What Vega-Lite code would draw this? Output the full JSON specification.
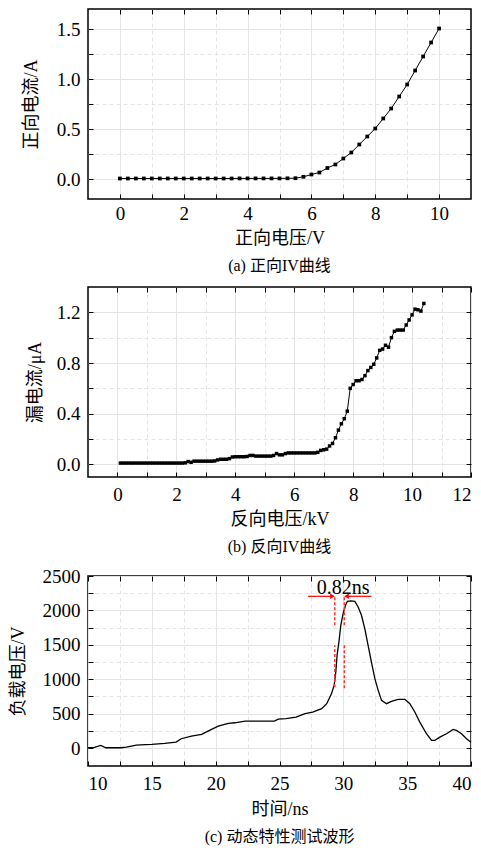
{
  "$schema": "https://vega.github.io/schema/vega-lite/v6.json",
  "background": "white",
  "padding": {"left": 8, "top": 7, "right": 0, "bottom": 0},
  "spacing": 10,
  "config": {
    "view": {"stroke": "#000", "strokeWidth": 1.5},
    "axis": {
      "domain": false,
      "labelFont": "Liberation Serif",
      "labelFontSize": 19,
      "labelColor": "#000",
      "titleFont": "Liberation Serif, Noto Sans CJK SC",
      "titleFontSize": 18,
      "titleFontWeight": "normal",
      "titleColor": "#000",
      "tickColor": "#000",
      "tickSize": -5,
      "tickWidth": 1,
      "gridColor": "#e4e4e4",
      "gridWidth": 1
    },
    "axisX": {"labelPadding": 10},
    "axisY": {"labelPadding": 13},
    "title": {"font": "Liberation Serif, Noto Sans CJK SC", "fontSize": 16, "fontWeight": "normal", "color": "#000", "offset": 9}
  },
  "vconcat": [
    {
      "width": 383,
      "height": 190,
      "title": {"text": "(a)  正向IV曲线", "orient": "bottom", "offset": 11},
      "data": {"values": [
        {"v": 0, "i": 0.005}, {"v": 0.25, "i": 0.005}, {"v": 0.5, "i": 0.005}, {"v": 0.75, "i": 0.005},
        {"v": 1, "i": 0.005}, {"v": 1.25, "i": 0.005}, {"v": 1.5, "i": 0.005}, {"v": 1.75, "i": 0.005},
        {"v": 2, "i": 0.005}, {"v": 2.25, "i": 0.005}, {"v": 2.5, "i": 0.005}, {"v": 2.75, "i": 0.005},
        {"v": 3, "i": 0.005}, {"v": 3.25, "i": 0.005}, {"v": 3.5, "i": 0.005}, {"v": 3.75, "i": 0.006},
        {"v": 4, "i": 0.006}, {"v": 4.25, "i": 0.006}, {"v": 4.5, "i": 0.006}, {"v": 4.75, "i": 0.006},
        {"v": 5, "i": 0.006}, {"v": 5.25, "i": 0.007}, {"v": 5.5, "i": 0.008}, {"v": 5.75, "i": 0.022},
        {"v": 6, "i": 0.045}, {"v": 6.25, "i": 0.065}, {"v": 6.5, "i": 0.11}, {"v": 6.75, "i": 0.145},
        {"v": 7, "i": 0.205}, {"v": 7.25, "i": 0.265}, {"v": 7.5, "i": 0.345}, {"v": 7.75, "i": 0.425},
        {"v": 8, "i": 0.505}, {"v": 8.25, "i": 0.605}, {"v": 8.5, "i": 0.705}, {"v": 8.75, "i": 0.825},
        {"v": 9, "i": 0.945}, {"v": 9.25, "i": 1.085}, {"v": 9.5, "i": 1.225}, {"v": 9.75, "i": 1.365},
        {"v": 10, "i": 1.505}
      ]},
      "layer": [
        {
          "mark": {"type": "line", "color": "#000", "strokeWidth": 1},
          "encoding": {
            "x": {"field": "v", "type": "quantitative", "scale": {"domain": [-1, 11], "nice": false, "zero": false},
              "axis": {"orient": "bottom", "title": "正向电压/V", "titlePadding": 6,
                "values": [0, 1, 2, 3, 4, 5, 6, 7, 8, 9, 10],
                "labelExpr": "datum.value % 2 === 0 ? datum.label : ''",
                "gridDash": {"condition": {"test": "datum.value % 2 !== 0", "value": [4, 3]}, "value": []}}},
            "y": {"field": "i", "type": "quantitative", "scale": {"domain": [-0.2, 1.7], "nice": false, "zero": false},
              "axis": {"orient": "left", "title": "正向电流/A", "titlePadding": 16, "format": ".1f",
                "values": [0, 0.25, 0.5, 0.75, 1, 1.25, 1.5],
                "labelExpr": "datum.value % 0.5 !== 0 ? '' : datum.label",
                "gridDash": {"condition": {"test": "datum.value % 0.5 !== 0", "value": [4, 3]}, "value": []}}}
          }
        },
        {
          "mark": {"type": "point", "shape": "square", "filled": true, "color": "#000", "size": 14, "opacity": 1},
          "encoding": {
            "x": {"field": "v", "type": "quantitative", "axis": null},
            "y": {"field": "i", "type": "quantitative", "axis": null}
          }
        },
        {
          "mark": {"type": "point", "opacity": 0},
          "encoding": {
            "x": {"field": "v", "type": "quantitative", "scale": {"domain": [-1, 11], "nice": false, "zero": false},
              "axis": {"orient": "top", "labels": false, "grid": false, "title": null, "values": [0, 1, 2, 3, 4, 5, 6, 7, 8, 9, 10]}},
            "y": {"field": "i", "type": "quantitative", "scale": {"domain": [-0.2, 1.7], "nice": false, "zero": false},
              "axis": {"orient": "right", "labels": false, "grid": false, "title": null, "values": [0, 0.25, 0.5, 0.75, 1, 1.25, 1.5]}}
          }
        }
      ]
    },
    {
      "width": 383,
      "height": 190,
      "title": {"text": "(b)  反向IV曲线", "orient": "bottom", "offset": 11},
      "data": {"values": [
        {"v": 0.1, "i": 0.01}, {"v": 0.2, "i": 0.01}, {"v": 0.3, "i": 0.01}, {"v": 0.4, "i": 0.01}, {"v": 0.5, "i": 0.01},
        {"v": 0.6, "i": 0.01}, {"v": 0.7, "i": 0.01}, {"v": 0.8, "i": 0.01}, {"v": 0.9, "i": 0.01}, {"v": 1.0, "i": 0.01},
        {"v": 1.1, "i": 0.01}, {"v": 1.2, "i": 0.01}, {"v": 1.3, "i": 0.01}, {"v": 1.4, "i": 0.01}, {"v": 1.5, "i": 0.01},
        {"v": 1.6, "i": 0.01}, {"v": 1.7, "i": 0.01}, {"v": 1.8, "i": 0.01}, {"v": 1.9, "i": 0.01}, {"v": 2.0, "i": 0.01},
        {"v": 2.1, "i": 0.01}, {"v": 2.2, "i": 0.01}, {"v": 2.3, "i": 0.012}, {"v": 2.4, "i": 0.022}, {"v": 2.5, "i": 0.016},
        {"v": 2.6, "i": 0.025}, {"v": 2.7, "i": 0.025}, {"v": 2.8, "i": 0.025}, {"v": 2.9, "i": 0.025}, {"v": 3.0, "i": 0.025},
        {"v": 3.1, "i": 0.025}, {"v": 3.2, "i": 0.025}, {"v": 3.3, "i": 0.027}, {"v": 3.4, "i": 0.035}, {"v": 3.5, "i": 0.04},
        {"v": 3.6, "i": 0.04}, {"v": 3.7, "i": 0.04}, {"v": 3.8, "i": 0.045}, {"v": 3.9, "i": 0.058}, {"v": 4.0, "i": 0.06},
        {"v": 4.1, "i": 0.06}, {"v": 4.2, "i": 0.06}, {"v": 4.3, "i": 0.06}, {"v": 4.4, "i": 0.062}, {"v": 4.5, "i": 0.07},
        {"v": 4.6, "i": 0.07}, {"v": 4.7, "i": 0.065}, {"v": 4.8, "i": 0.065}, {"v": 4.9, "i": 0.065}, {"v": 5.0, "i": 0.065},
        {"v": 5.1, "i": 0.065}, {"v": 5.2, "i": 0.065}, {"v": 5.3, "i": 0.07}, {"v": 5.4, "i": 0.085}, {"v": 5.5, "i": 0.075},
        {"v": 5.6, "i": 0.075}, {"v": 5.7, "i": 0.085}, {"v": 5.8, "i": 0.09}, {"v": 5.9, "i": 0.09}, {"v": 6.0, "i": 0.09},
        {"v": 6.1, "i": 0.09}, {"v": 6.2, "i": 0.09}, {"v": 6.3, "i": 0.09}, {"v": 6.4, "i": 0.09}, {"v": 6.5, "i": 0.09},
        {"v": 6.6, "i": 0.09}, {"v": 6.7, "i": 0.09}, {"v": 6.8, "i": 0.095}, {"v": 6.9, "i": 0.11}, {"v": 7.0, "i": 0.115},
        {"v": 7.1, "i": 0.12}, {"v": 7.2, "i": 0.145}, {"v": 7.3, "i": 0.165}, {"v": 7.4, "i": 0.21}, {"v": 7.5, "i": 0.27},
        {"v": 7.6, "i": 0.32}, {"v": 7.7, "i": 0.36}, {"v": 7.8, "i": 0.42}, {"v": 7.9, "i": 0.6}, {"v": 8.0, "i": 0.63},
        {"v": 8.1, "i": 0.66}, {"v": 8.2, "i": 0.66}, {"v": 8.3, "i": 0.67}, {"v": 8.4, "i": 0.7}, {"v": 8.5, "i": 0.74},
        {"v": 8.6, "i": 0.765}, {"v": 8.7, "i": 0.79}, {"v": 8.8, "i": 0.84}, {"v": 8.9, "i": 0.9}, {"v": 9.0, "i": 0.91},
        {"v": 9.1, "i": 0.94}, {"v": 9.2, "i": 0.925}, {"v": 9.3, "i": 1.0}, {"v": 9.4, "i": 1.05}, {"v": 9.5, "i": 1.06},
        {"v": 9.6, "i": 1.06}, {"v": 9.7, "i": 1.06}, {"v": 9.8, "i": 1.1}, {"v": 9.9, "i": 1.14}, {"v": 10.0, "i": 1.18},
        {"v": 10.1, "i": 1.225}, {"v": 10.2, "i": 1.22}, {"v": 10.3, "i": 1.21}, {"v": 10.4, "i": 1.27}
      ]},
      "layer": [
        {
          "mark": {"type": "line", "color": "#000", "strokeWidth": 1},
          "encoding": {
            "x": {"field": "v", "type": "quantitative", "scale": {"domain": [-1, 12], "nice": false, "zero": false},
              "axis": {"orient": "bottom", "title": "反向电压/kV", "titlePadding": 6, "labelPadding": 13,
                "values": [0, 1, 2, 3, 4, 5, 6, 7, 8, 9, 10, 11, 12],
                "labelExpr": "datum.value % 2 === 0 ? datum.label : ''",
                "gridDash": {"condition": {"test": "datum.value % 2 !== 0", "value": [4, 3]}, "value": []}}},
            "y": {"field": "i", "type": "quantitative", "scale": {"domain": [-0.1, 1.4], "nice": false, "zero": false},
              "axis": {"orient": "left", "title": "漏电流/μA", "titlePadding": 12, "format": ".1f",
                "values": [0, 0.2, 0.4, 0.6, 0.8, 1.0, 1.2],
                "labelExpr": "round(datum.value * 5) % 2 === 1 ? '' : datum.label",
                "gridDash": {"condition": {"test": "round(datum.value * 5) % 2 === 1", "value": [4, 3]}, "value": []}}}
          }
        },
        {
          "mark": {"type": "point", "shape": "square", "filled": true, "color": "#000", "size": 12, "opacity": 1},
          "encoding": {
            "x": {"field": "v", "type": "quantitative", "axis": null},
            "y": {"field": "i", "type": "quantitative", "axis": null}
          }
        },
        {
          "mark": {"type": "point", "opacity": 0},
          "encoding": {
            "x": {"field": "v", "type": "quantitative", "scale": {"domain": [-1, 12], "nice": false, "zero": false},
              "axis": {"orient": "top", "labels": false, "grid": false, "title": null, "values": [0, 1, 2, 3, 4, 5, 6, 7, 8, 9, 10, 11, 12]}},
            "y": {"field": "i", "type": "quantitative", "scale": {"domain": [-0.1, 1.4], "nice": false, "zero": false},
              "axis": {"orient": "right", "labels": false, "grid": false, "title": null, "values": [0, 0.2, 0.4, 0.6, 0.8, 1.0, 1.2]}}
          }
        }
      ]
    },
    {
      "width": 383,
      "height": 190,
      "title": {"text": "(c)  动态特性测试波形", "orient": "bottom", "offset": 11},
      "layer": [
        {
          "data": {"values": [
            {"t": 10.0, "u": 5}, {"t": 10.5, "u": 10}, {"t": 11.0, "u": 40}, {"t": 11.4, "u": 5}, {"t": 12.0, "u": 5},
            {"t": 12.6, "u": 5}, {"t": 13.0, "u": 15}, {"t": 13.8, "u": 44}, {"t": 14.5, "u": 50}, {"t": 15.0, "u": 54},
            {"t": 16.0, "u": 68}, {"t": 16.9, "u": 87}, {"t": 17.3, "u": 136}, {"t": 18.1, "u": 175}, {"t": 18.9, "u": 199},
            {"t": 19.4, "u": 247}, {"t": 20.2, "u": 320}, {"t": 21.0, "u": 359}, {"t": 21.5, "u": 368}, {"t": 22.3, "u": 393},
            {"t": 23.0, "u": 393}, {"t": 24.0, "u": 393}, {"t": 24.6, "u": 393}, {"t": 24.9, "u": 420}, {"t": 25.5, "u": 427},
            {"t": 26.3, "u": 451}, {"t": 27.0, "u": 500}, {"t": 27.6, "u": 524}, {"t": 28.3, "u": 572}, {"t": 28.7, "u": 645},
            {"t": 29.07, "u": 790}, {"t": 29.28, "u": 911}, {"t": 29.41, "u": 1105}, {"t": 29.51, "u": 1347}, {"t": 29.67, "u": 1565},
            {"t": 29.8, "u": 1783}, {"t": 29.98, "u": 1953}, {"t": 30.17, "u": 2074}, {"t": 30.32, "u": 2132}, {"t": 30.6, "u": 2140},
            {"t": 30.9, "u": 2132}, {"t": 31.16, "u": 2050}, {"t": 31.42, "u": 1929}, {"t": 31.68, "u": 1735}, {"t": 31.94, "u": 1493},
            {"t": 32.2, "u": 1250}, {"t": 32.47, "u": 1008}, {"t": 32.73, "u": 839}, {"t": 32.99, "u": 693}, {"t": 33.38, "u": 645},
            {"t": 33.77, "u": 679}, {"t": 34.29, "u": 708}, {"t": 34.82, "u": 708}, {"t": 35.21, "u": 645}, {"t": 35.6, "u": 524},
            {"t": 35.99, "u": 378}, {"t": 36.51, "u": 209}, {"t": 36.91, "u": 112}, {"t": 37.17, "u": 112}, {"t": 37.56, "u": 160},
            {"t": 38.08, "u": 209}, {"t": 38.6, "u": 272}, {"t": 38.86, "u": 257}, {"t": 39.26, "u": 209}, {"t": 39.65, "u": 136},
            {"t": 40.0, "u": 85}
          ]},
          "layer": [
            {
              "mark": {"type": "line", "color": "#000", "strokeWidth": 1.3},
              "encoding": {
                "x": {"field": "t", "type": "quantitative", "scale": {"domain": [10, 40], "nice": false, "zero": false},
                  "axis": {"orient": "bottom", "title": "时间/ns", "titlePadding": 7, "labelPadding": 13, "format": "d",
                    "values": [10, 12.5, 15, 17.5, 20, 22.5, 25, 27.5, 30, 32.5, 35, 37.5, 40],
                    "labelExpr": "datum.value % 5 !== 0 ? '' : datum.label",
                    "gridDash": {"condition": {"test": "datum.value % 5 !== 0", "value": [4, 3]}, "value": []}}},
                "y": {"field": "u", "type": "quantitative", "scale": {"domain": [-260, 2500], "nice": false, "zero": false},
                  "axis": {"orient": "left", "title": "负载电压/V", "titlePadding": 15, "format": "d",
                    "values": [0, 250, 500, 750, 1000, 1250, 1500, 1750, 2000, 2250, 2500],
                    "labelExpr": "datum.value % 500 !== 0 ? '' : datum.label",
                    "gridDash": {"condition": {"test": "datum.value % 500 !== 0", "value": [4, 3]}, "value": []}}}
              }
            },
            {
              "mark": {"type": "point", "opacity": 0},
              "encoding": {
                "x": {"field": "t", "type": "quantitative", "scale": {"domain": [10, 40], "nice": false, "zero": false},
                  "axis": {"orient": "top", "labels": false, "grid": false, "title": null, "values": [10, 12.5, 15, 17.5, 20, 22.5, 25, 27.5, 30, 32.5, 35, 37.5, 40]}},
                "y": {"field": "u", "type": "quantitative", "scale": {"domain": [-260, 2500], "nice": false, "zero": false},
                  "axis": {"orient": "right", "labels": false, "grid": false, "title": null, "values": [0, 250, 500, 750, 1000, 1250, 1500, 1750, 2000, 2250, 2500]}}
              }
            }
          ]
        },
        {
          "data": {"values": [
            {"t": 29.33, "u1": 1783, "u2": 2200},
            {"t": 29.33, "u1": 887, "u2": 1493},
            {"t": 30.08, "u1": 1783, "u2": 2200},
            {"t": 30.08, "u1": 870, "u2": 1517}
          ]},
          "mark": {"type": "rule", "color": "#ff3030", "strokeWidth": 1.5, "strokeDash": [3, 2]},
          "encoding": {
            "x": {"field": "t", "type": "quantitative", "axis": null},
            "y": {"field": "u1", "type": "quantitative", "axis": null},
            "y2": {"field": "u2"}
          }
        },
        {
          "data": {"values": [
            {"t1": 27.24, "t2": 29.2, "u": 2205},
            {"t1": 30.2, "t2": 32.2, "u": 2205}
          ]},
          "mark": {"type": "rule", "color": "#ff0000", "strokeWidth": 1.2},
          "encoding": {
            "x": {"field": "t1", "type": "quantitative", "axis": null},
            "x2": {"field": "t2"},
            "y": {"field": "u", "type": "quantitative", "axis": null}
          }
        },
        {
          "data": {"values": [
            {"t": 29.15, "u": 2205, "dir": "right"},
            {"t": 30.25, "u": 2205, "dir": "left"}
          ]},
          "mark": {"type": "point", "filled": true, "color": "#ff0000", "size": 30, "opacity": 1},
          "encoding": {
            "x": {"field": "t", "type": "quantitative", "axis": null},
            "y": {"field": "u", "type": "quantitative", "axis": null},
            "shape": {"field": "dir", "type": "nominal", "scale": {"domain": ["right", "left"], "range": ["triangle-right", "triangle-left"]}, "legend": null}
          }
        },
        {
          "data": {"values": [{"t": 29.98, "u": 2326, "label": "0.82ns"}]},
          "mark": {"type": "text", "font": "Liberation Serif", "fontSize": 20, "color": "#000"},
          "encoding": {
            "x": {"field": "t", "type": "quantitative", "axis": null},
            "y": {"field": "u", "type": "quantitative", "axis": null},
            "text": {"field": "label"}
          }
        }
      ]
    }
  ]
}
